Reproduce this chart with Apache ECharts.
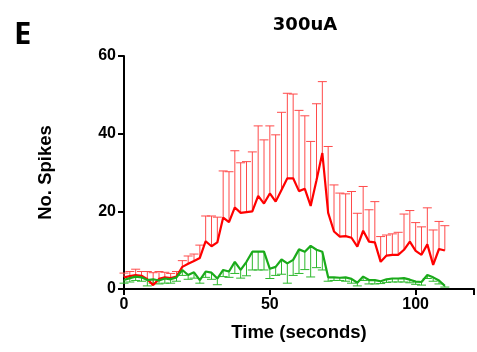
<!DOCTYPE html>
<html>
<head>
<meta charset="utf-8">
<script src="https://cdn.jsdelivr.net/npm/echarts@6/dist/echarts.min.js"></script>
<style>
html,body{margin:0;padding:0;background:#fff;}
#c{width:477px;height:352px;}
</style>
</head>
<body>
<div id="c"></div>
<script>
const times = [0,2,4,6,8,10,12,14,16,18,20,22,24,26,28,30,32,34,36,38,40,42,44,46,48,50,52,54,56,58,60,62,64,66,68,70,72,74,76,78,80,82,84,86,88,90,92,94,96,98,100,102,104,106,108,110];
const redMean = [3.0,3.3,3.6,3.4,2.5,1.0,2.6,3.0,2.8,3.2,5.7,6.5,7.2,8.0,12.3,11.0,12.0,18.4,17.2,21.0,19.6,19.8,20.0,24.0,22.0,24.6,22.5,25.5,28.5,28.5,25.2,25.8,21.4,28.0,35.0,19.6,14.8,13.5,13.6,13.2,10.9,15.0,12.2,12.0,7.0,8.6,8.8,8.8,10.1,12.2,9.8,8.8,11.5,6.2,10.3,9.9];
const redUpper = [4.1,4.5,5.1,4.5,4.5,4.2,4.5,4.3,4.0,4.5,7.3,8.5,9.0,11.3,18.8,18.8,18.5,30.4,30.2,35.6,32.5,32.8,35.3,42.0,38.4,42.0,39.7,45.5,50.4,50.2,46.0,44.6,38.0,47.7,53.4,36.7,26.8,24.7,24.5,25.1,19.5,26.4,20.4,22.5,13.5,13.9,14.2,14.6,19.3,20.2,17.1,16.0,20.9,15.2,17.4,16.3];
const greenMean = [2.3,2.8,3.2,3.0,2.3,2.5,2.2,2.7,2.5,3.0,4.9,3.6,4.3,2.3,4.5,4.2,2.7,4.9,4.5,7.0,4.9,7.0,9.6,9.6,9.6,5.2,5.7,7.6,6.6,7.5,10.2,9.6,11.1,10.1,9.6,3.0,3.0,2.9,3.0,2.6,1.6,3.2,2.3,2.3,2.0,2.5,2.7,2.7,2.8,2.4,1.9,1.8,3.6,3.0,2.2,0.8];
const greenLower = [1.5,1.8,2.2,2.0,0.8,1.5,1.3,1.5,1.5,2.0,3.5,2.5,2.8,1.5,3.0,2.5,1.1,3.2,3.0,4.0,2.8,3.4,4.9,4.9,4.9,2.7,3.5,3.8,1.5,3.5,4.0,5.0,3.1,5.5,4.9,2.0,2.2,2.2,2.0,1.5,0.8,2.2,1.3,1.3,1.4,1.7,1.8,1.8,1.8,1.6,1.2,1.0,2.7,2.0,1.3,0.5];
const yTicks = [0,20,40,60];
const xTicks = [0,50,100];

const chart = echarts.init(document.getElementById('c'), null, {renderer:'canvas'});
const font = 'Liberation Sans, Arial, sans-serif';

function errSeries(mean, bound, color){
  return {
    type:'custom',
    silent:true,
    data: times.map((t,i)=>[t, mean[i], bound[i]]),
    renderItem:function(params, api){
      const x = api.value(0), m = api.value(1), b = api.value(2);
      const p0 = api.coord([x,m]);
      const p1 = api.coord([x,b]);
      const st = {stroke:color, lineWidth:1};
      return {type:'group', children:[
        {type:'line', shape:{x1:p0[0],y1:p0[1],x2:p1[0],y2:p1[1]}, style:st},
        {type:'line', shape:{x1:p1[0]-4.5,y1:p1[1],x2:p1[0]+4.5,y2:p1[1]}, style:st}
      ]};
    },
    z:2
  };
}

chart.setOption({
  animation:false,
  backgroundColor:'#fff',
  title:[
    {text:'300uA', left:300, top:11, textAlign:'center', textStyle:{fontFamily:'DejaVu Sans', fontWeight:'bold', fontSize:18, color:'#000'}},
    {text:'E', left:9, top:15, textStyle:{fontFamily:'Open Sans', fontWeight:'bold', fontSize:31, color:'#000'}}
  ],
  grid:{left:124, right:3, top:56, bottom:63, containLabel:false},
  xAxis:{
    type:'value', min:0, max:120, interval:50,
    name:'Time (seconds)', nameLocation:'middle', nameGap:34,
    nameTextStyle:{fontFamily:font, fontWeight:'bold', fontSize:18.5, color:'#000'},
    axisLine:{show:true, onZero:false, lineStyle:{color:'#000', width:2}},
    axisTick:{show:true, length:6, lineStyle:{color:'#000', width:2}},
    axisLabel:{fontFamily:font, fontWeight:'bold', fontSize:16, color:'#000', margin:8,
      formatter:function(v){return xTicks.indexOf(v)>=0 ? String(v) : '';}},
    splitLine:{show:false}
  },
  yAxis:{
    type:'value', min:0, max:60, interval:20,
    name:'No. Spikes', nameLocation:'middle', nameGap:69,
    nameTextStyle:{fontFamily:font, fontWeight:'bold', fontSize:18.5, color:'#000'},
    axisLine:{show:true, lineStyle:{color:'#000', width:2}},
    axisTick:{show:true, length:6, lineStyle:{color:'#000', width:2}},
    axisLabel:{fontFamily:font, fontWeight:'bold', fontSize:16, color:'#000', margin:8,
      formatter:function(v){return yTicks.indexOf(v)>=0 ? String(v) : '';}},
    splitLine:{show:false}
  },
  series:[
    errSeries(redMean, redUpper, '#ff4a4a'),
    {type:'line', data:times.map((t,i)=>[t,redMean[i]]), symbol:'none', lineStyle:{color:'#ff0000', width:2.2}, z:3},
    errSeries(greenMean, greenLower, '#2db82d'),
    {type:'line', data:times.map((t,i)=>[t,greenMean[i]]), symbol:'none', lineStyle:{color:'#1aaa1a', width:2.2}, z:4}
  ]
});
</script>
</body>
</html>
